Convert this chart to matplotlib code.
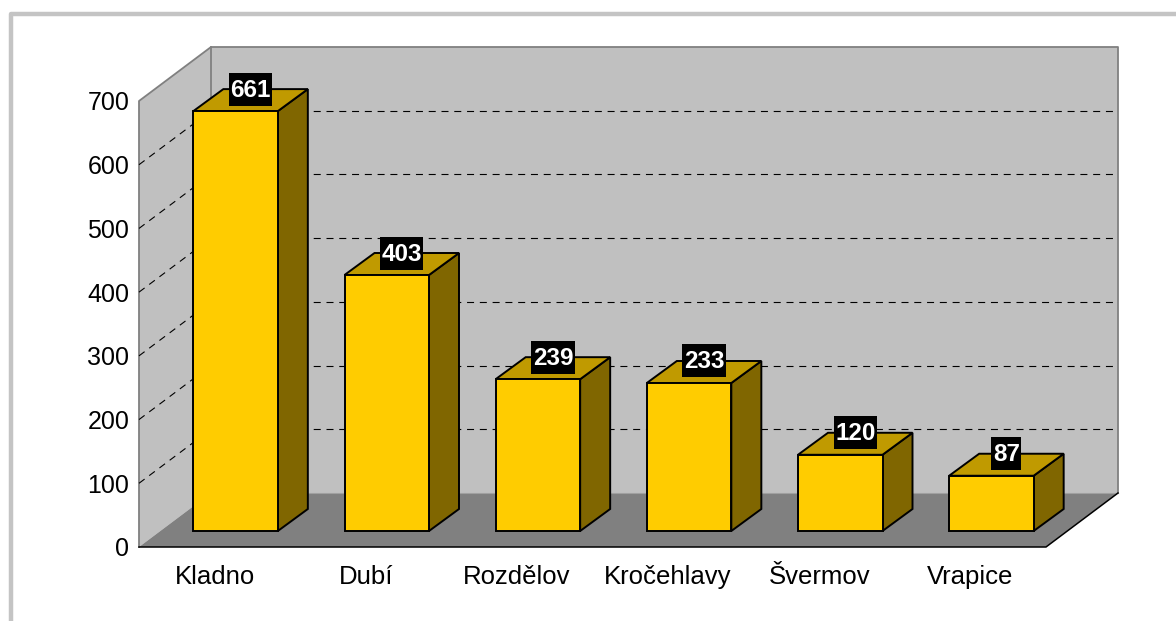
import matplotlib
matplotlib.use("Agg")
import matplotlib.pyplot as plt
from matplotlib.lines import Line2D
from matplotlib.patches import Polygon, Rectangle

categories = ["Kladno", "Dubí", "Rozdělov", "Kročehlavy", "Švermov", "Vrapice"]
values = [661, 403, 239, 233, 120, 87]
y_ticks = [0, 100, 200, 300, 400, 500, 600, 700]

W, H = 1176, 621
L, R, B, T = 139, 1046, 547, 101   # plot front plane in pixels (y from top)
FRONT, BACK, BAR = "#FFCC00", "#806600", "#C09A00"
WALL, FLOOR = "#C0C0C0", "#808080"

plt.rcParams["font.family"] = ["Liberation Sans", "DejaVu Sans"]
fig = plt.figure(figsize=(W / 100, H / 100), dpi=100, facecolor="white")
ax = fig.add_axes([L / W, 1 - B / H, (R - L) / W, (B - T) / H])
ax.set_xlim(-0.5, 5.5)
ax.set_ylim(0, 700)
ax.patch.set_visible(False)
for s in ax.spines.values():
    s.set_visible(False)

# depth of the 3D box, converted to data units
ux = 6 / (R - L)
uy = 700 / (B - T)
DX, DY = 72 * ux, 54 * uy
BDX, BDY = 30 * ux, 22 * uy
OX, OY = 21 * ux, 16 * uy
BW = 84.5 * ux
HEIGHT_SCALE = 0.997
x0, x1, ymax = -0.5, 5.5, 700


def poly(pts, fc, ec="none", lw=0.0, z=1):
    ax.add_patch(Polygon(pts, closed=True, facecolor=fc, edgecolor=ec, linewidth=lw,
                         joinstyle="miter", clip_on=False, zorder=z))


# walls and floor
poly([(x0, 0), (x0 + DX, DY), (x0 + DX, ymax + DY), (x0, ymax)], WALL, z=1)
poly([(x0 + DX, DY), (x1 + DX, DY), (x1 + DX, ymax + DY), (x0 + DX, ymax + DY)], WALL, z=1)
poly([(x0, 0), (x1, 0), (x1 + DX, DY), (x0 + DX, DY)], FLOOR, z=1)

# wall outlines
grey = dict(color="#808080", lw=1.3, clip_on=False, zorder=2)
ax.plot([x0, x0, x0 + DX, x1 + DX, x1 + DX], [0, ymax, ymax + DY, ymax + DY, DY], **grey)
ax.plot([x0 + DX, x0 + DX], [DY, ymax + DY], **grey)
ax.plot([x0 + DX, x1 + DX], [DY, DY], color="#A0A0A0", lw=0.8, clip_on=False, zorder=2)
ax.plot([x0, x1, x1 + DX], [0, 0, DY], color="black", lw=1.1, clip_on=False, zorder=2,
        solid_joinstyle="miter")

# dashed gridlines
dash = dict(color="black", lw=0.8, dashes=(6.3, 5.2), clip_on=False, zorder=2)
for t in y_ticks[1:-1]:
    ax.plot([x0, x0 + DX], [t, t + DY], **dash)
    ax.plot([x0 + DX, x1 + DX], [t + DY, t + DY], **dash)

# bars
fig.canvas.draw()
renderer = fig.canvas.get_renderer()
for i, v in enumerate(values):
    l = i + OX - BW / 2
    r = i + OX + BW / 2
    b = OY
    t = OY + v * HEIGHT_SCALE
    z = 3 + i
    edge = dict(ec="black", lw=1.4, z=z)
    poly([(r, b), (r + BDX, b + BDY), (r + BDX, t + BDY), (r, t)], BACK, **edge)
    poly([(l, t), (r, t), (r + BDX, t + BDY), (l + BDX, t + BDY)], BAR, **edge)
    poly([(l, b), (r, b), (r, t), (l, t)], FRONT, **edge)

    cx = i + OX + 15 * ux
    cy = t + 22 * uy
    txt = ax.text(cx, cy + 1.5 * uy, str(v), color="white", fontweight="bold", fontsize=17.5,
                  ha="center", va="center_baseline", zorder=21, clip_on=False)
    w = txt.get_window_extent(renderer).width + 3
    ax.add_patch(Rectangle((cx - w / 2 * ux, cy - 16.5 * uy), w * ux, 33 * uy,
                           facecolor="black", edgecolor="none", clip_on=False, zorder=20))

# axis labels
ax.set_yticks(y_ticks)
ax.set_xticks(range(len(categories)), categories)
ax.tick_params(axis="y", length=0, pad=7, labelsize=18)
ax.tick_params(axis="x", length=0, pad=12.8, labelsize=18.5)

# outer chart frame, running off the image at right and bottom
fig.add_artist(Line2D([11 / W, 11 / W, 1.01], [-0.01, 1 - 14 / H, 1 - 14 / H],
                      color="#C4C4C4", lw=3.2, solid_joinstyle="round",
                      transform=fig.transFigure))

fig.savefig("out.png", dpi=100, facecolor="white")
